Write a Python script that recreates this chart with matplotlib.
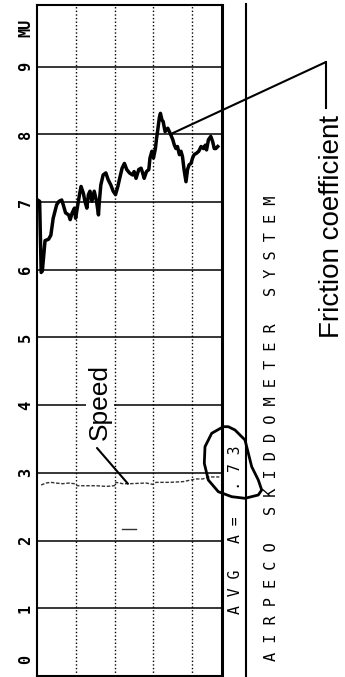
import matplotlib
matplotlib.use("Agg")
import matplotlib.pyplot as plt
from matplotlib.transforms import Affine2D
from matplotlib.patches import Polygon

# ---------------- data ----------------
# distance along the run (one dotted division = 1 unit)
fric_x = [0.01, 0.06, 0.10, 0.13, 0.20, 0.29, 0.35, 0.41, 0.46, 0.50, 0.56, 0.63,
          0.67, 0.73, 0.81, 0.85, 0.90, 0.96, 0.99, 1.04, 1.09, 1.13, 1.19, 1.23,
          1.28, 1.32, 1.36, 1.41, 1.47, 1.53, 1.58, 1.60, 1.64, 1.70, 1.77, 1.83,
          1.90, 1.96, 2.02, 2.08, 2.14, 2.19, 2.25, 2.31, 2.38, 2.46, 2.50, 2.55,
          2.62, 2.68, 2.72, 2.76, 2.82, 2.88, 2.91, 2.96, 3.00, 3.05, 3.08, 3.11,
          3.15, 3.18, 3.22, 3.25, 3.30, 3.37, 3.41, 3.45, 3.50, 3.54, 3.58, 3.62,
          3.67, 3.71, 3.75, 3.79, 3.84, 3.88, 3.92, 3.97, 4.01, 4.05, 4.11, 4.17,
          4.23, 4.29, 4.34, 4.37, 4.42, 4.48, 4.53, 4.57, 4.61, 4.66]
# friction coefficient (MU, in tenths)
fric_mu = [7.03, 7.01, 5.96, 5.98, 6.43, 6.45, 6.51, 6.76, 6.87, 6.96, 7.01, 7.03,
           6.96, 6.84, 6.81, 6.74, 6.84, 6.91, 6.76, 6.94, 7.11, 7.23, 7.13, 7.01,
           6.91, 7.11, 7.16, 7.01, 7.16, 7.01, 6.81, 6.99, 7.25, 7.40, 7.43, 7.33,
           7.25, 7.16, 7.11, 7.23, 7.38, 7.50, 7.57, 7.48, 7.43, 7.40, 7.45, 7.35,
           7.48, 7.50, 7.43, 7.35, 7.45, 7.48, 7.65, 7.75, 7.65, 7.79, 7.94, 8.06,
           8.24, 8.31, 8.21, 8.19, 8.04, 8.09, 8.04, 7.99, 7.92, 7.84, 7.79, 7.82,
           7.70, 7.75, 7.67, 7.48, 7.30, 7.48, 7.55, 7.57, 7.65, 7.70, 7.72, 7.75,
           7.82, 7.79, 7.84, 7.77, 7.92, 7.97, 7.89, 7.79, 7.79, 7.82]

speed_x = [0.10, 0.22, 0.35, 0.48, 0.66, 0.82, 0.95, 1.04, 1.17, 1.52, 1.78, 1.99,
           2.03, 2.21, 2.38, 2.81, 2.98, 3.07, 3.41, 3.76, 3.93, 4.10, 4.27, 4.44, 4.70]
speed_v = [2.82, 2.85, 2.86, 2.85, 2.84, 2.85, 2.84, 2.81, 2.81, 2.81, 2.80, 2.81,
           2.86, 2.84, 2.84, 2.85, 2.83, 2.86, 2.86, 2.87, 2.89, 2.91, 2.91, 2.94, 2.94]

stray_x = [2.20, 2.56]
stray_v = [2.17, 2.17]

scale_ticks = [0.24, 1, 2, 3, 4, 5, 6, 7, 8, 9, 9.57]
scale_labels = ["0", "1", "2", "3", "4", "5", "6", "7", "8", "9", "MU"]
grid_rows = [1, 2, 3, 4, 5, 6, 7, 8, 9]
grid_cols = [1, 2, 3, 4]

avg_text = "AVG A= .73"
title_text = "AIRPECO SKIDDOMETER SYSTEM"
fric_label = "Friction coefficient"
speed_label = "Speed"
fric_pointer = (3.47, 8.01)
speed_pointer = (2.34, 2.84)

# ---------------- figure ----------------
W, H = 345, 677
fig = plt.figure(figsize=(W / 100, H / 100), dpi=100)
fig.patch.set_facecolor("white")
pix = Affine2D().scale(1 / 100, -1 / 100).translate(0, H / 100) + fig.dpi_scale_trans

ax = fig.add_axes([37.3 / W, 1 / H, (222 - 37.3) / W, 671 / H])
ax.set_xlim(0, 4.77)
ax.set_ylim(0, 9.91)
ax.set_xticks([])
ax.set_yticks([])
for side, lw in [("left", 1.5), ("right", 2.2), ("top", 1.5), ("bottom", 1.5)]:
    ax.spines[side].set_linewidth(lw)
    ax.spines[side].set_color("black")

for r in grid_rows:
    ax.axhline(r, color="black", lw=1.1, zorder=1)
for c in grid_cols:
    ax.axvline(c, color="black", lw=1.0, ls=(0, (1, 1.6)), zorder=1)

ax.plot(fric_x, fric_mu, color="black", lw=2.5, zorder=4, solid_joinstyle="round")
ax.plot(speed_x, speed_v, color="#333333", lw=1.0, ls=(0, (2.5, 1.2)), zorder=3)
ax.plot(stray_x, stray_v, color="#333333", lw=1.0, zorder=3)

ytr = ax.get_yaxis_transform()
for v, s in zip(scale_ticks, scale_labels):
    ax.text(-0.064, v, s, transform=ytr, rotation=90, ha="center", va="center",
            family="DejaVu Sans Mono", fontweight="bold", fontsize=11, clip_on=False)

# Speed label and pointer
fig.text(100, 402, speed_label, transform=pix, rotation=90, ha="center", va="center",
         family="Liberation Sans", fontsize=19, zorder=5,
         bbox=dict(facecolor="white", edgecolor="none", pad=1.5))
ax.annotate("", xy=speed_pointer, xycoords="data", xytext=(97, 448), textcoords=pix,
            arrowprops=dict(arrowstyle="-", color="black", lw=1.5, shrinkA=0, shrinkB=0),
            annotation_clip=False)

# Friction pointer
ax.annotate("", xy=fric_pointer, xycoords="data", xytext=(326, 62), textcoords=pix,
            arrowprops=dict(arrowstyle="-", color="black", lw=1.5, shrinkA=0, shrinkB=0),
            annotation_clip=False)
fig.add_artist(plt.Line2D([326, 326], [62, 108], transform=pix, color="black", lw=1.5))
fig.text(332, 226, fric_label, transform=pix, rotation=90, ha="center", va="center",
         family="Liberation Sans", fontsize=20)

# side panel
fig.add_artist(plt.Line2D([246, 246], [4, 676], transform=pix, color="black", lw=1.5))


def spaced(s):
    return " ".join(s)


fig.text(235.5, 529.5, spaced(avg_text), transform=pix, rotation=90, ha="center",
         va="center", family="DejaVu Sans Mono", fontsize=10.6)
fig.text(272, 428, spaced(title_text), transform=pix, rotation=90, ha="center",
         va="center", family="DejaVu Sans Mono", fontsize=11)

oval = [(223.3, 426.7), (211.7, 433.3), (205, 446.7), (204.3, 463.3), (208.3, 480),
        (218.3, 491.7), (231.7, 496.7), (245, 498.3), (258.3, 495), (261.7, 490),
        (258.3, 480), (251.7, 466.7), (245, 440), (235, 430), (228.3, 426.7)]
fig.add_artist(Polygon(oval, closed=True, fill=False, edgecolor="black", lw=2.0,
                       joinstyle="round", transform=pix))

fig.savefig("out.png", dpi=100, facecolor="white")
